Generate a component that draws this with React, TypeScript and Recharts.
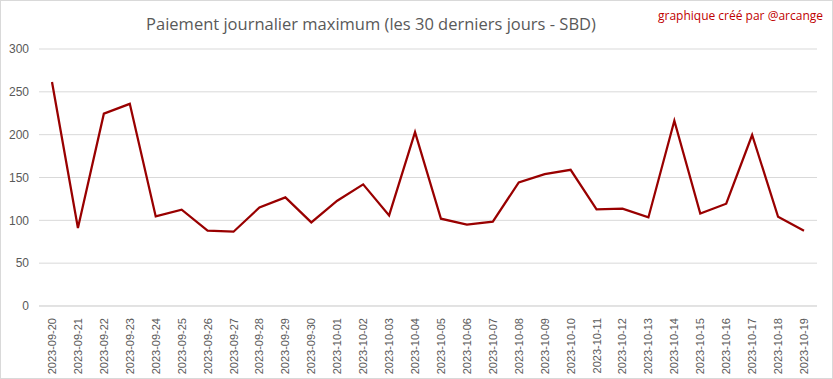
import { LineChart, Line, XAxis, YAxis, CartesianGrid } from 'recharts';

const days = [
  '2023-09-20', '2023-09-21', '2023-09-22', '2023-09-23', '2023-09-24', '2023-09-25',
  '2023-09-26', '2023-09-27', '2023-09-28', '2023-09-29', '2023-09-30', '2023-10-01',
  '2023-10-02', '2023-10-03', '2023-10-04', '2023-10-05', '2023-10-06', '2023-10-07',
  '2023-10-08', '2023-10-09', '2023-10-10', '2023-10-11', '2023-10-12', '2023-10-13',
  '2023-10-14', '2023-10-15', '2023-10-16', '2023-10-17', '2023-10-18', '2023-10-19',
];

const maxPayout = [
  261.5, 91, 224.5, 236, 104.6, 112.4, 87.9, 86.7, 115, 126.8, 97.6, 122.9,
  142, 105.8, 203, 101.9, 94.9, 98.4, 144.3, 154, 159, 112.8, 113.6, 103.4,
  216.3, 108, 119.4, 199.6, 104.2, 87.9,
];

const yTicks = [0, 50, 100, 150, 200, 250, 300];

const data = days.map((day, i) => ({ day, value: maxPayout[i] }));

const DateTick = ({ x, y, payload }: any) => (
  <text
    x={0}
    y={0}
    transform={`translate(${x + 4},${y + 4}) rotate(-90)`}
    textAnchor="end"
    fontSize={11}
    fill="#595959"
    fontFamily="Liberation Sans, Arial, sans-serif"
  >
    {payload.value}
  </text>
);

export default function App() {
  return (
    <div style={{ position: 'absolute', left: 0, top: 0, width: 833, height: 379, background: '#fff' }}>
      <LineChart width={833} height={379} data={data} margin={{ top: 49, right: 16, bottom: 0, left: 0 }}>
        <rect x={0.5} y={0.5} width={832} height={378} fill="none" stroke="#d9d9d9" />
        <text x={371} y={30} textAnchor="middle" fontSize={16.5} fill="#595959" fontFamily="Open Sans, sans-serif">
          Paiement journalier maximum (les 30 derniers jours - SBD)
        </text>
        <text x={823} y={20} textAnchor="end" fontSize={12} fill="#c00000" fontFamily="Open Sans, sans-serif">
          graphique créé par @arcange
        </text>
        <CartesianGrid vertical={false} stroke="#d9d9d9" />
        <XAxis
          dataKey="day"
          interval={0}
          height={73}
          padding={{ left: 13, right: 13 }}
          tick={<DateTick />}
          tickLine={false}
          axisLine={{ stroke: '#d9d9d9' }}
        />
        <YAxis
          domain={[0, 300]}
          ticks={yTicks}
          width={39}
          axisLine={false}
          tickLine={false}
          tickMargin={4}
          tick={{ fontSize: 12, fill: '#595959', fontFamily: 'Liberation Sans, Arial, sans-serif' }}
        />
        <Line
          type="linear"
          dataKey="value"
          stroke="#990000"
          strokeWidth={2.25}
          dot={false}
          isAnimationActive={false}
        />
      </LineChart>
    </div>
  );
}
